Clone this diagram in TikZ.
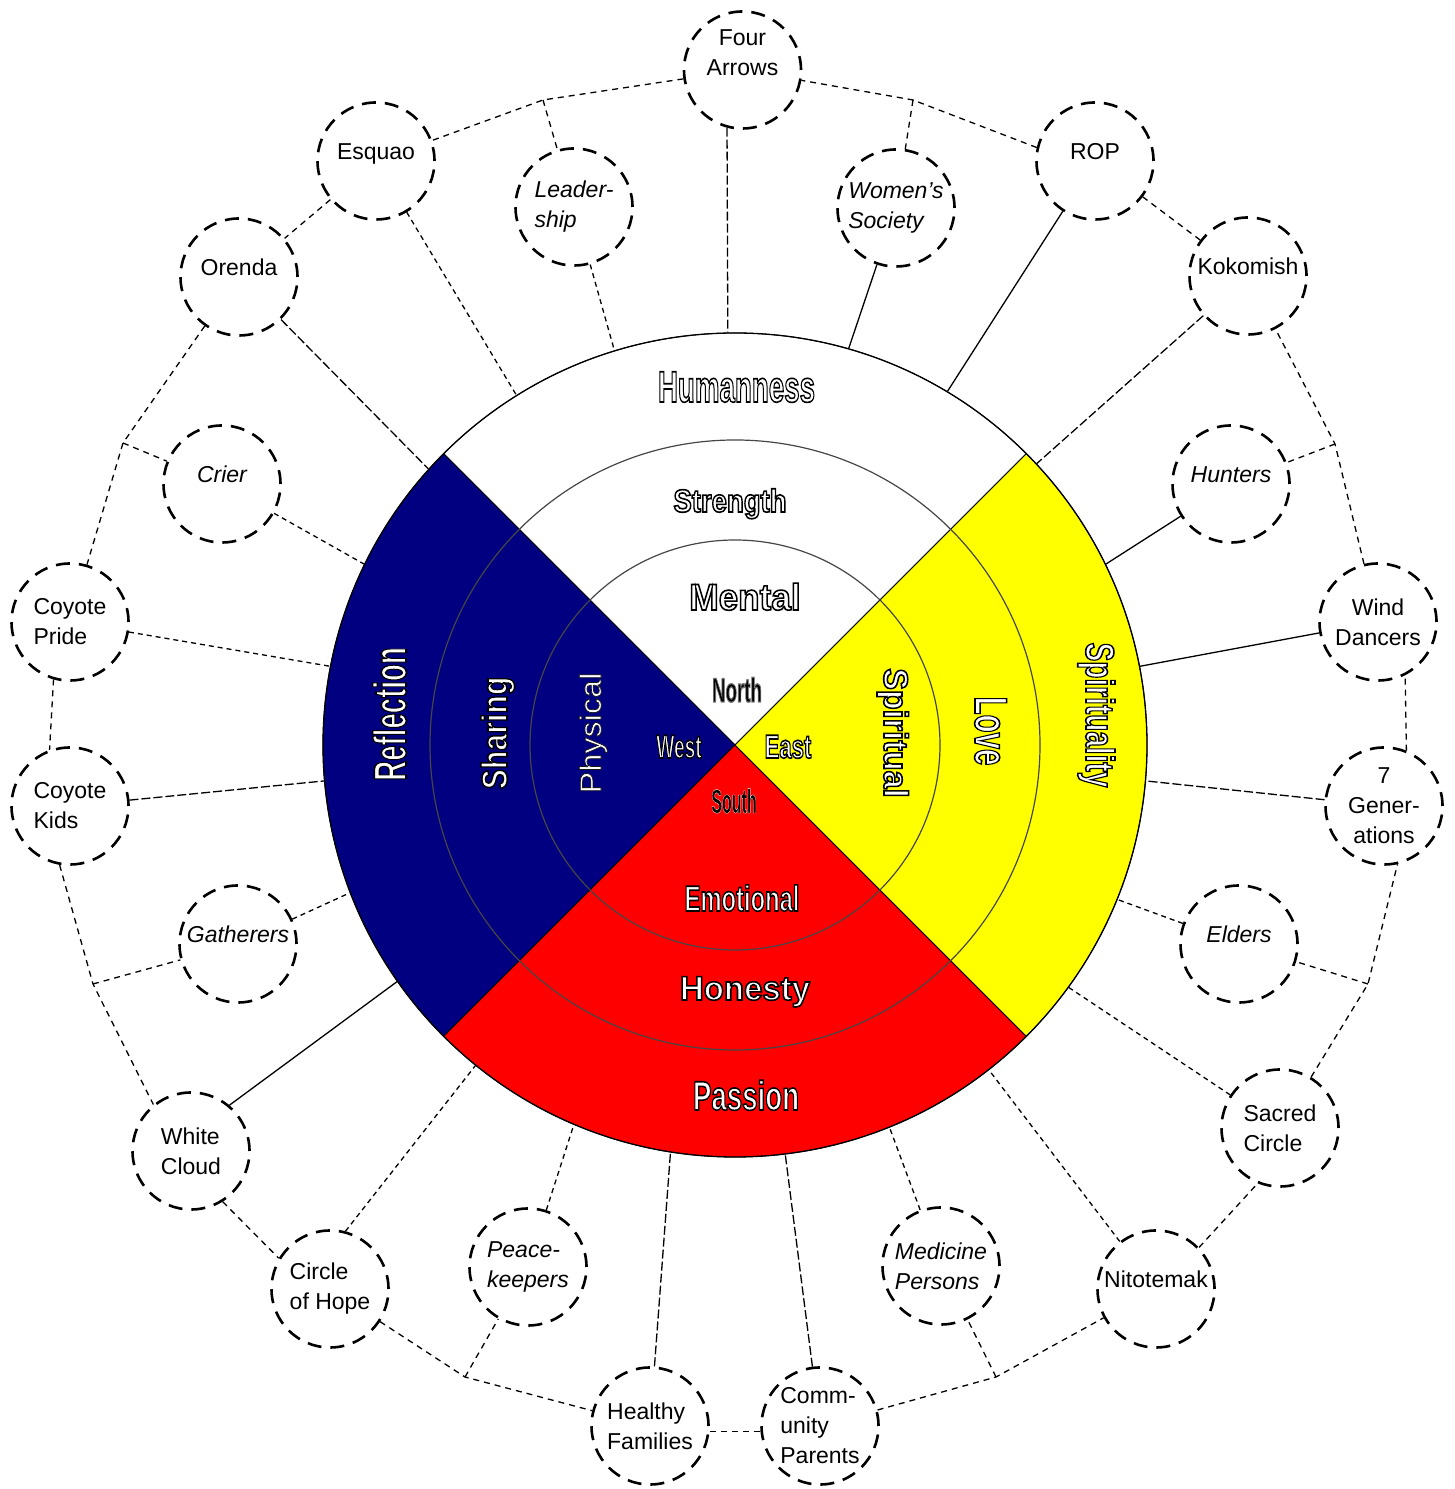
\documentclass[tikz,border=0pt]{standalone}
\usepackage{fontspec}
\setmainfont{Liberation Sans}
\newfontfamily\wf{Liberation Sans}
\usetikzlibrary{calc}
\definecolor{wnavy}{RGB}{0,0,128}
\definecolor{wred}{RGB}{255,0,0}
\definecolor{wyellow}{RGB}{255,255,0}
\definecolor{ringgray}{RGB}{70,70,70}
\newcommand\outw{\color{white}\special{pdf:literal direct 0 0 0 RG 2 Tr 1.6 w}}
\newcommand\outwt{\color{white}\special{pdf:literal direct 0.1 0.1 0.1 RG 2 Tr 0.7 w}}
\newcommand\outd{\color{black}\special{pdf:literal direct 0.45 0.45 0.45 RG 2 Tr 1.2 w}}
\newcommand\outk{\color{black}\special{pdf:literal direct 1 1 1 RG 2 Tr 0.35 w}}
\newcommand\outoff{\special{pdf:literal direct 0 Tr}}
\newcommand\wlab[4]{{\wf\bfseries\fontsize{#1}{#1}\selectfont\scalebox{#2}[1]{#3#4\outoff}}}
\newcommand\wlabr[4]{{\wf\fontsize{#1}{#1}\selectfont\scalebox{#2}[1]{#3#4\outoff}}}
\begin{document}
\begin{tikzpicture}[x=1pt,y=1pt,
  bubble/.style={circle, draw=black, line width=2.6pt, dash pattern=on 14pt off 9pt,
    minimum size=117pt, inner sep=0pt, font=\fontsize{23}{30}\selectfont, align=left},
  ibubble/.style={bubble, font=\fontsize{23}{30}\selectfont\itshape},
  oneline/.style={text height=17pt, text depth=20pt},
  ringline/.style={line width=1.3pt, dash pattern=on 6pt off 5pt},
  spokeS/.style={line width=1.3pt},
  spokeA/.style={line width=1.3pt, dash pattern=on 9pt off 3pt},
  spokeB/.style={line width=1.3pt, dash pattern=on 5pt off 4pt},
  wtext/.style={inner sep=0pt, anchor=base},
  sector/.style={draw=black, line width=0.8pt}
]
\useasboundingbox (0,0) rectangle (1455,1489);
\coordinate (C) at (735,744);

% wheel sectors
\filldraw[sector, fill=white] (C) -- ($(C)+(45:412)$) arc[start angle=45, end angle=135, radius=412] -- cycle;
\filldraw[sector, fill=wnavy] (C) -- ($(C)+(135:412)$) arc[start angle=135, end angle=225, radius=412] -- cycle;
\filldraw[sector, fill=wred] (C) -- ($(C)+(225:412)$) arc[start angle=225, end angle=315, radius=412] -- cycle;
\filldraw[sector, fill=wyellow] (C) -- ($(C)+(-45:412)$) arc[start angle=-45, end angle=45, radius=412] -- cycle;
\draw[ringgray, line width=1.2pt] (C) circle[radius=305];
\draw[ringgray, line width=1.2pt] (C) circle[radius=205];
\node[circle, draw=black, line width=1.3pt, minimum size=824pt, inner sep=0pt] (wheel) at (C) {};

% bubbles
\node[bubble, align=center] (fourarrows) at (742.5,1419) {Four\\Arrows\\[4pt]\mbox{}};
\node[bubble, oneline] (esquao) at (376,1328) {Esquao};
\node[ibubble] (leadership) at (574,1282) {Leader-\\ship};
\node[ibubble] (women) at (896,1281) {Women's\\Society};
\node[bubble, oneline] (rop) at (1095,1328) {ROP};
\node[bubble, oneline] (orenda) at (239,1212) {Orenda};
\node[bubble, oneline] (kokomish) at (1248,1213) {Kokomish};
\node[ibubble, oneline] (crier) at (222,1005) {Crier};
\node[ibubble, oneline] (hunters) at (1231,1005) {Hunters};
\node[bubble] (coyotepride) at (70,867) {Coyote\\Pride};
\node[bubble, align=center] (wind) at (1378,867) {Wind\\Dancers};
\node[bubble] (coyotekids) at (70,683) {Coyote\\Kids};
\node[bubble, align=center] (sevengen) at (1384,683) {7\\Gener-\\ations};
\node[ibubble, oneline] (gatherers) at (238,545) {Gatherers};
\node[ibubble, oneline] (elders) at (1239,545) {Elders};
\node[bubble] (whitecloud) at (191,338) {White\\Cloud};
\node[bubble] (sacred) at (1280,361) {Sacred\\Circle};
\node[bubble] (circlehope) at (330,200) {Circle\\of Hope};
\node[ibubble] (peace) at (528,222) {Peace-\\keepers};
\node[ibubble] (medicine) at (941,223) {Medicine\\Persons};
\node[bubble, oneline] (nitotemak) at (1156,200) {Nitotemak};
\node[bubble] (healthy) at (650,63) {Healthy\\Families};
\node[bubble] (community) at (820,63) {Comm-\\unity\\Parents};

% junctions of the outer ring
\coordinate (jLead) at (543,1389);
\coordinate (jWomen) at (913,1389);
\coordinate (jHunt) at (1335,1045);
\coordinate (jElders) at (1368,505);
\coordinate (jMed) at (996,112);
\coordinate (jPeace) at (465,112);
\coordinate (jGath) at (93,505);
\coordinate (jCrier) at (123,1046);

% outer ring
\draw[ringline] (fourarrows) -- (jLead) -- (esquao);
\draw[ringline] (esquao) -- (orenda);
\draw[ringline] (orenda) -- (jCrier) -- (coyotepride);
\draw[ringline] (coyotepride.-106) -- (coyotekids.110);
\draw[ringline] (coyotekids.-100) -- (jGath) -- (whitecloud.129);
\draw[ringline] (whitecloud.-58) -- (circlehope.149);
\draw[ringline] (circlehope) -- (jPeace) -- (healthy);
\draw[ringline] (healthy.-5) -- (community.185);
\draw[ringline] (community) -- (jMed) -- (nitotemak);
\draw[ringline] (nitotemak.44) -- (sacred.-112);
\draw[ringline] (sacred) -- (jElders) -- (sevengen.-77);
\draw[ringline] (sevengen.68) -- (wind.-63);
\draw[ringline] (wind) -- (jHunt) -- (kokomish);
\draw[ringline] (kokomish) -- (rop);
\draw[ringline] (rop.167) -- (jWomen) -- (fourarrows);
% branches
\draw[ringline] (jLead) -- (leadership);
\draw[ringline] (jWomen) -- (women);
\draw[ringline] (jHunt) -- (hunters);
\draw[ringline] (jElders) -- (elders);
\draw[ringline] (jMed) -- (medicine);
\draw[ringline] (jPeace) -- (peace);
\draw[ringline] (jGath) -- (gatherers);
\draw[ringline] (jCrier) -- (crier);

% spokes to the wheel
\draw[spokeA] (fourarrows.-105) -- (wheel.91);
\draw[spokeB] (leadership) -- (wheel.107);
\draw[spokeS] (women) -- (wheel.74);
\draw[spokeS] (rop) -- (wheel.59);
\draw[spokeA] (kokomish) -- (wheel.43);
\draw[spokeS] (hunters) -- (wheel.26);
\draw[spokeS] (wind) -- (wheel.11);
\draw[spokeA] (sevengen) -- (wheel.-5);
\draw[spokeB] (elders) -- (wheel.-22);
\draw[spokeB] (sacred) -- (wheel.-36);
\draw[spokeB] (nitotemak) -- (wheel.-52);
\draw[spokeB] (medicine) -- (wheel.-68);
\draw[spokeA] (community) -- (wheel.-83);
\draw[spokeA] (healthy) -- (wheel.-99);
\draw[spokeB] (peace) -- (wheel.-113);
\draw[spokeB] (circlehope.75) -- (wheel.-129);
\draw[spokeS] (whitecloud.50) -- (wheel.-145);
\draw[spokeB] (gatherers) -- (wheel.-159);
\draw[spokeA] (coyotekids) -- (wheel.-175);
\draw[spokeB] (coyotepride) -- (wheel.169);
\draw[spokeB] (crier) -- (wheel.154);
\draw[spokeA] (orenda) -- (wheel.138);
\draw[spokeB] (esquao) -- (wheel.122);

% wheel texts
\node[wtext] (humanness) at (736.5,1087) {\wlab{44}{0.63}{\outw}{Humanness}};
\node[wtext] (strength) at (730,977) {\wlab{32}{0.86}{\outw}{Strength}};
\node[wtext] (mental) at (745,879) {\wlab{37}{0.95}{\outw}{Mental}};
\node[wtext] (north) at (737,787) {\wlab{34}{0.55}{\outd}{North}};
\node[wtext] (west) at (679,731) {\wlab{33}{0.58}{\outw}{West}};
\node[wtext] (east) at (788,731) {\wlab{33}{0.67}{\outw}{East}};
\node[wtext] (south) at (734,676) {\wlab{34}{0.47}{\outk}{South}};
\node[wtext] (emotional) at (742,578) {\wlab{36}{0.66}{\outw}{Emotional}};
\node[wtext] (honesty) at (745,489) {\wlab{34}{0.97}{\outw}{Honesty}};
\node[wtext] (passion) at (746,379) {\wlab{41}{0.675}{\outw}{Passion}};
\node[wtext, rotate=90] (reflection) at (406,775) {\wlab{46}{0.6}{\outw}{Reflection}};
\node[wtext, rotate=90] (sharing) at (507,756) {\wlab{36}{0.84}{\outw}{Sharing}};
\node[wtext, rotate=90] (physical) at (601,756) {\wlabr{30}{1.08}{\outwt}{Physical}};
\node[wtext, rotate=-90] (spiritual) at (884,756) {\wlab{34}{0.95}{\outw}{Spiritual}};
\node[wtext, rotate=-90] (spirituality) at (1086,774) {\wlab{40}{0.7}{\outw}{Spirituality}};
\node[wtext, rotate=-90] (love) at (975,758) {\wlab{46}{0.64}{\outw}{Love}};
\end{tikzpicture}
\end{document}
